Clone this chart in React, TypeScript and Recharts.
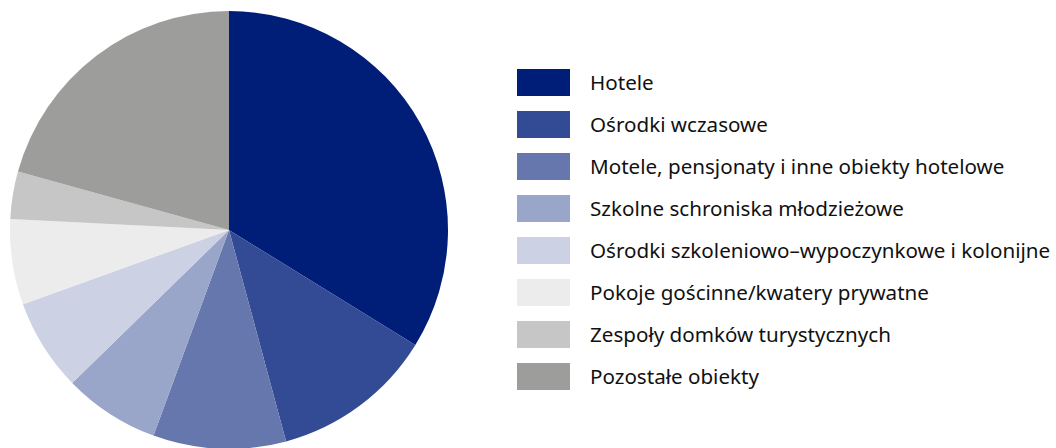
import { PieChart, Pie, Cell, Legend } from 'recharts';

const CATEGORIES = [
  'Hotele',
  'Ośrodki wczasowe',
  'Motele, pensjonaty i inne obiekty hotelowe',
  'Szkolne schroniska młodzieżowe',
  'Ośrodki szkoleniowo–wypoczynkowe i kolonijne',
  'Pokoje gościnne/kwatery prywatne',
  'Zespoły domków turystycznych',
  'Pozostałe obiekty',
];

const SHARES = [33.8, 12.0, 9.8, 7.1, 6.8, 6.3, 3.5, 20.7];

const COLORS = ['#001d77', '#334a94', '#6677ad', '#99a5c9', '#ccd2e4', '#ececec', '#c6c6c6', '#9d9d9c'];

const data = CATEGORIES.map((name, i) => ({ name, value: SHARES[i] }));

const FONT = '"Noto Sans", "Open Sans", sans-serif';

const LegendList = () => (
  <div style={{ fontFamily: FONT }}>
    {CATEGORIES.map((name, i) => (
      <div key={name} style={{ display: 'flex', alignItems: 'center', height: 42 }}>
        <div style={{ width: 53, height: 27, background: COLORS[i], flexShrink: 0 }} />
        <span style={{ marginLeft: 20, fontSize: 20.6, color: '#111', whiteSpace: 'nowrap' }}>{name}</span>
      </div>
    ))}
  </div>
);

const App = () => {
  return (
    <div style={{ position: 'absolute', left: 0, top: 0, width: 1056, height: 448, background: '#fff' }}>
      <PieChart width={1056} height={448} margin={{ top: 0, right: 0, bottom: 0, left: 0 }}>
        <Pie
          data={data}
          dataKey="value"
          nameKey="name"
          cx={229}
          cy={230}
          outerRadius={219}
          startAngle={90}
          endAngle={-270}
          stroke="none"
          isAnimationActive={false}
        >
          {data.map((entry, index) => (
            <Cell key={`cell-${index}`} fill={COLORS[index]} />
          ))}
        </Pie>
        <Legend
          content={<LegendList />}
          layout="vertical"
          wrapperStyle={{ left: 517, top: 61, width: 539 }}
        />
      </PieChart>
    </div>
  );
};

export default App;
